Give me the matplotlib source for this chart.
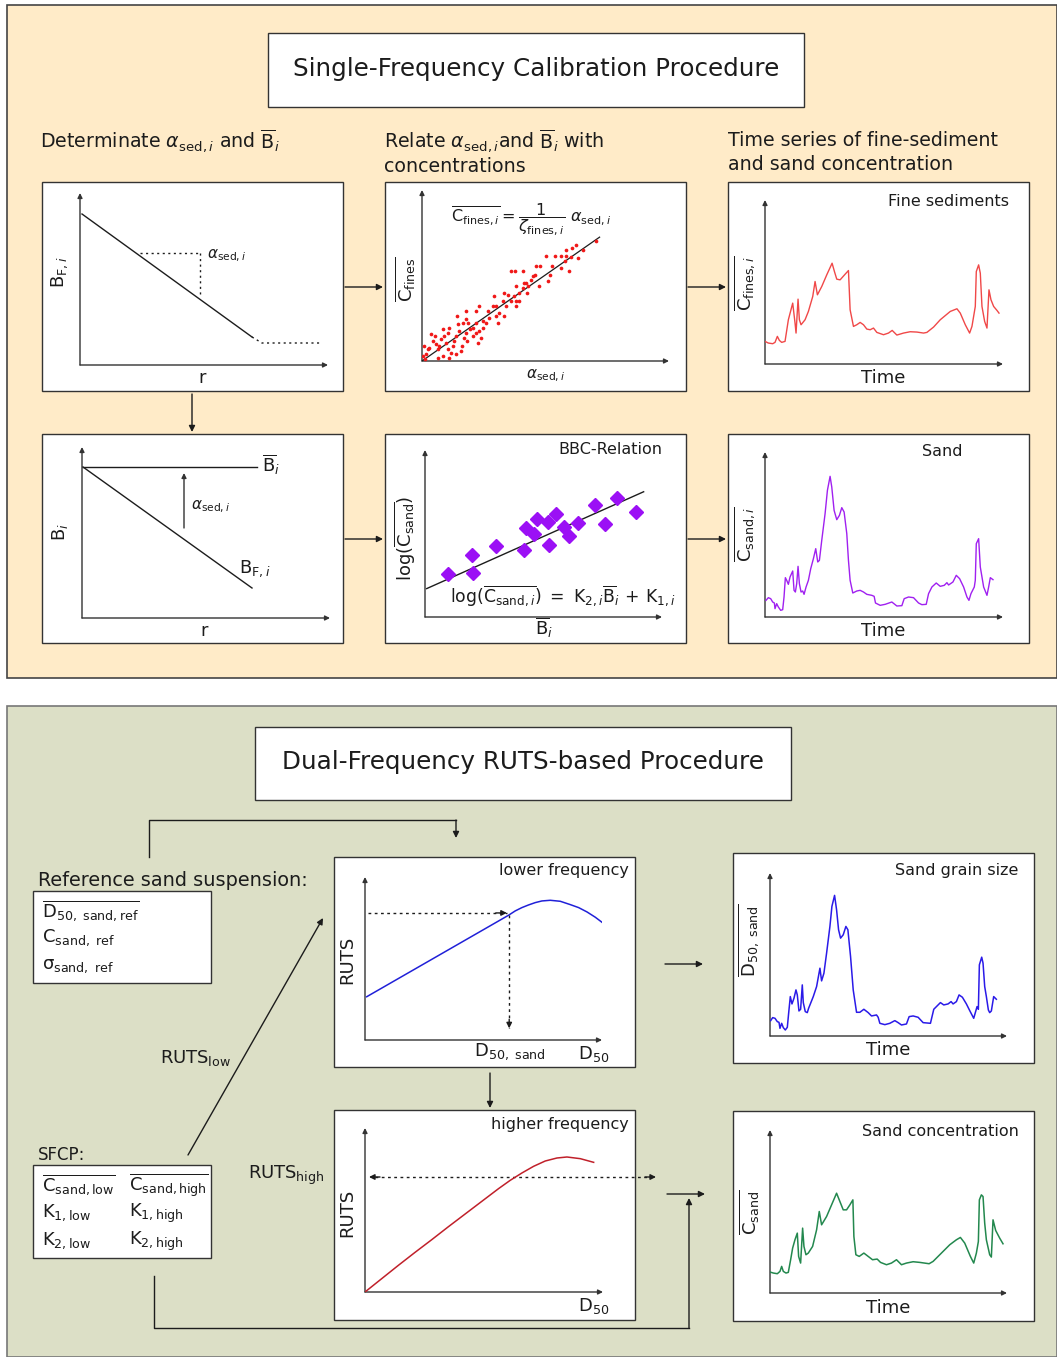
import matplotlib.pyplot as plt
from matplotlib.patches import Rectangle

W, H = 1057, 1357
plt.rcParams['font.family'] = 'DejaVu Sans'
plt.rcParams['mathtext.fontset'] = 'dejavusans'

INK = '#1c1c1c'
AXC = '#333333'

# ---------------- data (units measured from each plot's axis origin) ----------------
# backscatter along range, first sketch
bf_r = [2, 172]
bf_b = [151, 28]
bf_tail_r = [172, 182, 240]
bf_tail_b = [28, 22, 22]

# corrected backscatter sketch
bbar_r = [1, 175]
bbar_b = [151, 151]
bfi_r = [1, 170]
bfi_b = [151, 30]

# fine sediment calibration scatter
alpha_pts = [520, 482, 462, 450, 432, 447, 466, 417, 432, 427, 417, 399, 389, 372, 377, 382, 355, 440, 342, 350,
             340, 327, 334, 318, 302, 280, 267, 312, 302, 314, 292, 282, 277, 257, 247, 242, 267, 282, 232, 217,
             212, 222, 202, 192, 182, 197, 172, 162, 162, 152, 172, 162, 177, 167, 144, 132, 137, 132, 127, 120,
             117, 132, 104, 107, 112, 102, 97, 92, 102, 87, 82, 77, 72, 67, 77, 82, 62, 57, 52, 47,
             42, 40, 32, 27, 22, 17, 12, 7, 10, 2, 62, 47, 122, 134, 152, 182, 227, 222, 252, 247,
             292, 307, 282]
cfines_pts = [360, 333, 350, 340, 335, 312, 311, 315, 317, 300, 280, 315, 285, 315, 240, 260, 285, 270, 285, 225,
              260, 245, 255, 225, 270, 270, 270, 235, 220, 205, 205, 225, 195, 200, 205, 180, 180, 165, 145, 195,
              165, 135, 130, 115, 120, 150, 165, 150, 115, 100, 90, 85, 70, 55, 95, 150, 115, 85, 70, 45,
              30, 125, 135, 110, 90, 75, 60, 45, 20, 25, 10, 35, 55, 75, 85, 100, 95, 65, 45, 35,
              50, 75, 60, 80, 40, 35, 20, 45, 5, 15, 15, 10, 115, 60, 75, 100, 115, 165, 165, 135,
              180, 235, 180]
fit_alpha = [0, 532]
fit_cfines = [0, 373]

# BBC relation
bbar_pts = [70, 143, 142, 213, 297, 303, 328, 335, 367, 372, 392, 415, 430, 457, 510, 540, 575, 633]
logc_pts = [128, 132, 185, 212, 202, 267, 248, 293, 285, 215, 307, 270, 243, 280, 335, 278, 355, 315]
bbc_fit_b = [5, 655]
bbc_fit_c = [85, 375]

# time series of fine sediment concentration
fines_t = [0, 10, 23, 30, 37, 43, 50, 60, 70, 83, 90, 93, 99, 103, 108, 120, 130, 143, 150, 157,
           170, 185, 201, 208, 215, 225, 241, 250, 255, 265, 275, 285, 295, 305, 315, 325, 335, 355, 370, 381,
           395, 415, 435, 455, 475, 485, 505, 525, 555, 575, 585, 600, 613, 620, 630, 633, 640, 645, 650, 658,
           665, 671, 677, 685, 695, 701]
fines_c = [68, 63, 61, 65, 83, 71, 65, 68, 133, 183, 123, 93, 195, 133, 118, 133, 158, 203, 248, 208,
           233, 268, 303, 278, 255, 253, 271, 281, 163, 113, 118, 125, 118, 105, 103, 108, 95, 88, 93, 101,
           87, 93, 97, 96, 93, 95, 111, 133, 158, 166, 153, 118, 93, 113, 173, 278, 298, 273, 173, 128,
           108, 223, 193, 173, 161, 153]

# time series of sand concentration (single frequency)
sand_t = [3, 10, 17, 23, 28, 30, 35, 40, 47, 53, 57, 61, 65, 70, 75, 83, 87, 91, 95, 99,
          103, 108, 113, 117, 123, 130, 137, 145, 152, 158, 163, 170, 180, 187, 195, 200, 207, 215, 223, 230,
          237, 245, 250, 255, 263, 275, 285, 295, 305, 320, 327, 331, 345, 360, 380, 395, 410, 417, 430, 445,
          460, 470, 483, 490, 500, 513, 525, 537, 545, 550, 563, 573, 583, 595, 605, 611, 617, 627, 630, 633,
          640, 645, 650, 655, 665, 670, 675, 683]
sand_c = [50, 58, 55, 45, 42, 25, 40, 30, 20, 22, 60, 118, 110, 98, 120, 138, 80, 75, 100, 152,
          100, 75, 78, 68, 90, 110, 145, 175, 205, 165, 170, 230, 310, 380, 422, 390, 320, 292, 305, 328,
          315, 250, 170, 110, 72, 78, 80, 75, 68, 65, 62, 42, 35, 38, 45, 33, 34, 55, 60, 58,
          42, 37, 38, 70, 90, 102, 92, 95, 103, 96, 105, 125, 115, 90, 60, 50, 70, 90, 110, 220,
          235, 150, 120, 90, 65, 90, 118, 112]

# RUTS curves
low_d50 = [5, 430, 450, 470, 490, 510, 530, 555, 585, 615, 640, 665, 690, 715]
low_ruts = [130, 375, 388, 398, 406, 413, 418, 420, 417, 407, 398, 385, 369, 350]
high_d50 = [0, 50, 100, 150, 200, 250, 300, 350, 400, 435, 470, 505, 540, 575, 605, 645, 685]
high_ruts = [0, 40, 80, 119, 157, 196, 234, 272, 310, 335, 357, 377, 393, 402, 405, 400, 389]

# dual-frequency results
d50_t = [2, 8, 15, 22, 27, 30, 35, 40, 46, 52, 56, 61, 66, 72, 78, 82, 87, 92, 97, 100,
         106, 112, 116, 122, 130, 140, 150, 155, 162, 170, 180, 186, 194, 200, 206, 212, 220, 228, 234, 242,
         250, 260, 270, 282, 295, 305, 320, 325, 330, 345, 360, 375, 385, 395, 410, 418, 430, 445, 460, 482,
         492, 505, 512, 522, 535, 544, 550, 560, 568, 578, 590, 600, 612, 622, 626, 629, 636, 640, 645, 650,
         656, 660, 665, 672, 680]
d50_v = [46, 55, 53, 43, 41, 23, 38, 25, 18, 26, 68, 118, 96, 113, 138, 123, 75, 80, 153, 100,
         73, 70, 83, 98, 118, 148, 203, 165, 188, 248, 328, 388, 421, 378, 318, 293, 303, 328, 318, 238,
         138, 71, 71, 80, 70, 60, 63, 56, 38, 34, 38, 46, 40, 33, 36, 58, 60, 56, 40, 38,
         80, 93, 100, 93, 96, 103, 96, 103, 123, 116, 96, 76, 53, 88, 80, 213, 236, 218, 148, 118,
         78, 70, 75, 118, 110]
csand_t = [0, 10, 22, 30, 35, 40, 48, 55, 62, 68, 75, 82, 86, 92, 98, 102, 108, 115, 128, 140,
           148, 155, 170, 185, 200, 208, 220, 230, 240, 249, 252, 258, 268, 282, 295, 308, 322, 332, 350, 365,
           380, 395, 410, 430, 450, 478, 490, 510, 540, 560, 572, 585, 602, 612, 620, 626, 629, 635, 640, 645,
           650, 660, 665, 670, 678, 690, 700]
csand_v = [63, 60, 58, 65, 80, 65, 60, 62, 100, 135, 160, 180, 110, 90, 195, 140, 115, 120, 140, 190,
           245, 205, 230, 265, 300, 280, 250, 250, 265, 280, 170, 115, 110, 120, 110, 100, 102, 92, 85, 90,
           100, 85, 90, 94, 92, 88, 95, 115, 145, 160, 167, 150, 110, 90, 120, 155, 280, 295, 290, 210,
           160, 115, 108, 220, 188, 165, 148]

# ---------------- figure ----------------
fig = plt.figure(figsize=(W / 100, H / 100), dpi=100)
ov = fig.add_axes([0, 0, 1, 1])
ov.set_xlim(0, W)
ov.set_ylim(H, 0)
ov.axis('off')


def rect(x0, y0, x1, y1, fc='white', ec=AXC, lw=1.0, z=1):
    ov.add_patch(Rectangle((x0, y0), x1 - x0, y1 - y0, facecolor=fc,
                           edgecolor=ec, linewidth=lw, zorder=z))


def arrow(p0, p1, color=INK, lw=1.0, ms=9):
    ov.annotate('', xy=p1, xytext=p0,
                arrowprops=dict(arrowstyle='-|>', color=color, lw=lw,
                                mutation_scale=ms, shrinkA=0, shrinkB=0), zorder=5)


def line(xs, ys, color=INK, lw=1.0, ls='-'):
    ov.plot(xs, ys, color=color, lw=lw, ls=ls, zorder=4)


def txt(x, y, s, size=13, ha='left', va='center', rot=0, color=INK):
    ov.text(x, y, s, fontsize=size, ha=ha, va=va, rotation=rot, color=color, zorder=6)


def plot_area(origin, xtip, ytip, xmax, ymax):
    ox, oy = origin
    arrow((ox, oy), (xtip, oy), color=AXC, lw=1, ms=7)
    arrow((ox, oy), (ox, ytip), color=AXC, lw=1, ms=7)
    ax = fig.add_axes([ox / W, 1 - oy / H, (xtip - ox) / W, (oy - ytip) / H])
    ax.set_xlim(0, xmax)
    ax.set_ylim(0, ymax)
    ax.axis('off')
    return ax


def dotted_arrow(ax, p0, p1, color=INK):
    ax.plot([p0[0], p1[0]], [p0[1], p1[1]], ls=(0, (2, 2.5)), lw=1, color=color, clip_on=False)
    q = (p1[0] - (p1[0] - p0[0]) * 0.08, p1[1] - (p1[1] - p0[1]) * 0.08)
    ax.annotate('', xy=p1, xytext=q, annotation_clip=False,
                arrowprops=dict(arrowstyle='-|>', color=color, lw=1,
                                mutation_scale=8, shrinkA=0, shrinkB=0))


# section backgrounds
rect(7, 5, 1057, 678, fc='#FFEBC8', ec='#444444', lw=1.2, z=0)
rect(7, 706, 1057, 1357, fc='#DCDFC6', ec='#777777', lw=1.2, z=0)

# ---------------- single-frequency section ----------------
rect(268, 33, 804, 107)
txt(536, 69, 'Single-Frequency Calibration Procedure', size=17.7, ha='center')

txt(40, 141, r'Determinate $\alpha_{\mathrm{sed},i}$ and $\overline{\mathrm{B}}_i$', size=13.7)
txt(384, 141, r'Relate $\alpha_{\mathrm{sed},i}$and $\overline{\mathrm{B}}_i$ with', size=13.7)
txt(384, 167, 'concentrations', size=13.7)
txt(728, 141, 'Time series of fine-sediment', size=13.7)
txt(728, 165, 'and sand concentration', size=13.7)

for x0 in (42, 385, 728):
    rect(x0, 182, x0 + 301, 391)
    rect(x0, 434, x0 + 301, 643)

arrow((345, 287), (383, 287))
arrow((688, 287), (726, 287))
arrow((345, 539), (383, 539))
arrow((688, 539), (726, 539))
arrow((192, 394), (192, 432))

# backscatter along range
ax = plot_area((80, 365), 328, 193, 248, 172)
ax.plot(bf_r, bf_b, color=INK, lw=1)
ax.plot(bf_tail_r, bf_tail_b, color=INK, lw=1, ls=(0, (1.5, 2.5)))
ax.plot([60, 120], [112, 112], color=INK, lw=1, ls=(0, (1.5, 2.5)))
ax.plot([120, 120], [112, 68], color=INK, lw=1, ls=(0, (1.5, 2.5)))
txt(207, 256, r'$\alpha_{\mathrm{sed},i}$', size=11)
txt(60, 272, r'$\mathrm{B}_{\mathrm{F},i}$', size=13, ha='center', rot=90)
txt(202, 378, 'r', size=13, ha='center')

# corrected backscatter
ax = plot_area((82, 618), 330, 447, 248, 171)
ax.plot(bbar_r, bbar_b, color=INK, lw=1)
ax.plot(bfi_r, bfi_b, color=INK, lw=1)
ax.annotate('', xy=(102, 145), xytext=(102, 90),
            arrowprops=dict(arrowstyle='-|>', color=AXC, lw=1, mutation_scale=7, shrinkA=0, shrinkB=0))
txt(262, 465, r'$\overline{\mathrm{B}}_i$', size=13)
txt(191, 507, r'$\alpha_{\mathrm{sed},i}$', size=11)
txt(239, 569, r'$\mathrm{B}_{\mathrm{F},i}$', size=13)
txt(60, 532, r'$\mathrm{B}_i$', size=13, ha='center', rot=90)
txt(204, 631, 'r', size=13, ha='center')

# fine sediment calibration
ax = plot_area((422, 361), 669, 190, 740, 515)
ax.scatter(alpha_pts, cfines_pts, s=7, color='#F01818', linewidths=0, zorder=3)
ax.plot(fit_alpha, fit_cfines, color=INK, lw=0.9, zorder=2)
txt(451, 220, r'$\overline{\mathrm{C}_{\mathrm{fines},i}}=\dfrac{1}{\zeta_{\mathrm{fines},i}}\ \alpha_{\mathrm{sed},i}$',
    size=11.5)
txt(405, 279, r'$\overline{\mathrm{C}_{\mathrm{fines}}}$', size=13, ha='center', rot=90)
txt(546, 376, r'$\alpha_{\mathrm{sed},i}$', size=11, ha='center')

# BBC relation
ax = plot_area((425, 617), 662, 450, 710, 500)
ax.plot(bbc_fit_b, bbc_fit_c, color=INK, lw=1, zorder=2)
ax.plot(bbar_pts, logc_pts, ls='none', marker='D', ms=7.5, color='#9B10F5', zorder=3)
txt(610, 449, 'BBC-Relation', size=11.5, ha='center')
txt(450, 596, r'$\log(\overline{\mathrm{C}_{\mathrm{sand},i}})\ =\ \mathrm{K}_{2,i}\overline{\mathrm{B}}_i\,+\,\mathrm{K}_{1,i}$',
    size=12.4)
txt(405, 538, r'$\log(\overline{\mathrm{C}_{\mathrm{sand}}})$', size=13, ha='center', rot=90)
txt(544, 628, r'$\overline{\mathrm{B}}_i$', size=13, ha='center')

# fine sediment time series
ax = plot_area((765, 364), 1003, 200, 713, 493)
ax.plot(fines_t, fines_c, color='#F04848', lw=1)
txt(948, 201, 'Fine sediments', size=11.5, ha='center')
txt(745, 283, r'$\overline{\mathrm{C}_{\mathrm{fines},i}}$', size=13, ha='center', rot=90)
txt(883, 378, 'Time', size=13, ha='center')

# sand time series
ax = plot_area((765, 617), 1003, 452, 713, 495)
ax.plot(sand_t, sand_c, color='#A020F0', lw=1)
txt(942, 451, 'Sand', size=11.5, ha='center')
txt(745, 534, r'$\overline{\mathrm{C}_{\mathrm{sand},i}}$', size=13, ha='center', rot=90)
txt(883, 631, 'Time', size=13, ha='center')

# ---------------- dual-frequency section ----------------
rect(255, 727, 791, 800)
txt(523, 762, 'Dual-Frequency RUTS-based Procedure', size=17.7, ha='center')

txt(38, 880, 'Reference sand suspension:', size=13.9)
rect(33, 891, 211, 983)
txt(42, 911, r'$\overline{\mathrm{D}_{50,\ \mathrm{sand,ref}}}$', size=13)
txt(42, 938, r'$\mathrm{C}_{\mathrm{sand,\ ref}}$', size=13)
txt(42, 966, r'$\mathrm{\sigma}_{\mathrm{sand,\ ref}}$', size=13)

txt(38, 1155, 'SFCP:', size=12)
rect(33, 1165, 211, 1258)
txt(42, 1185, r'$\overline{\mathrm{C}_{\mathrm{sand,low}}}$', size=13)
txt(42, 1213, r'$\mathrm{K}_{1,\mathrm{low}}$', size=13)
txt(42, 1241, r'$\mathrm{K}_{2,\mathrm{low}}$', size=13)
txt(129, 1185, r'$\overline{\mathrm{C}_{\mathrm{sand,high}}}$', size=13)
txt(129, 1213, r'$\mathrm{K}_{1,\mathrm{high}}$', size=13)
txt(129, 1241, r'$\mathrm{K}_{2,\mathrm{high}}$', size=13)

txt(160, 1058, r'$\mathrm{RUTS}_{\mathrm{low}}$', size=13)
txt(248, 1175, r'$\mathrm{RUTS}_{\mathrm{high}}$', size=13)

rect(334, 857, 635, 1067)
rect(334, 1110, 635, 1320)
rect(733, 853, 1034, 1063)
rect(733, 1111, 1034, 1321)

# connectors
line([149, 149, 456], [857, 820, 820])
arrow((456, 820), (456, 838))
arrow((188, 1155), (323, 918))
arrow((490, 1073), (490, 1108))
arrow((665, 964), (703, 964))
arrow((667, 1194), (705, 1194))
line([154, 154, 689], [1276, 1328, 1328])
arrow((689, 1328), (689, 1198))

# lower frequency RUTS
ax = plot_area((365, 1040), 602, 877, 710, 490)
ax.plot(low_d50, low_ruts, color='#2020D8', lw=1.1)
dotted_arrow(ax, (10, 382), (425, 382))
dotted_arrow(ax, (432, 375), (432, 35))
txt(564, 871, 'lower frequency', size=11.5, ha='center')
txt(347, 960, 'RUTS', size=13, ha='center', rot=90)
txt(474, 1052, r'$\mathrm{D}_{50,\ \mathrm{sand}}$', size=13)
txt(578, 1054, r'$\mathrm{D}_{50}$', size=13)

# higher frequency RUTS
ax = plot_area((365, 1292), 603, 1128, 713, 492)
ax.plot(high_d50, high_ruts, color='#C0202A', lw=1.1)
ov.plot([375, 650], [1177, 1177], color=INK, lw=1, ls=(0, (2, 2.5)), zorder=4)
arrow((380, 1177), (369, 1177), ms=8)
arrow((645, 1177), (656, 1177), ms=8)
txt(560, 1124, 'higher frequency', size=11.5, ha='center')
txt(347, 1213, 'RUTS', size=13, ha='center', rot=90)
txt(578, 1306, r'$\mathrm{D}_{50}$', size=13)

# sand grain size
ax = plot_area((770, 1036), 1007, 873, 712, 488)
ax.plot(d50_t, d50_v, color='#2A1AE8', lw=1.1)
txt(957, 870, 'Sand grain size', size=11.5, ha='center')
txt(749, 940, r'$\overline{\mathrm{D}_{50,\ \mathrm{sand}}}$', size=13, ha='center', rot=90)
txt(888, 1050, 'Time', size=13, ha='center')

# sand concentration
ax = plot_area((770, 1293), 1007, 1130, 712, 490)
ax.plot(csand_t, csand_v, color='#23884E', lw=1.1)
txt(940, 1131, 'Sand concentration', size=11.5, ha='center')
txt(749, 1212, r'$\overline{\mathrm{C}_{\mathrm{sand}}}$', size=13, ha='center', rot=90)
txt(888, 1308, 'Time', size=13, ha='center')

fig.savefig('out.png', dpi=100)
